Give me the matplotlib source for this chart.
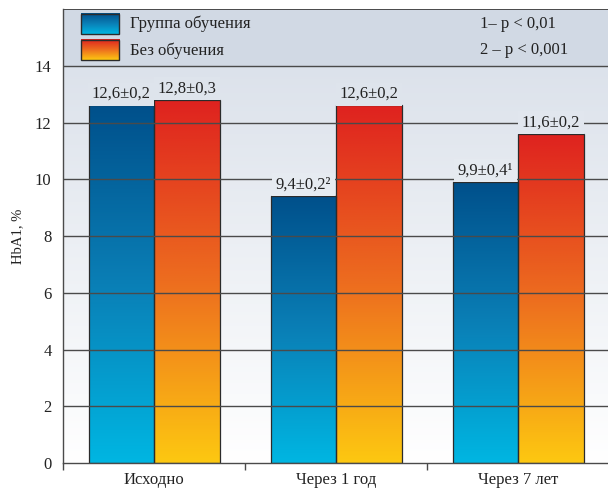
import numpy as np
import matplotlib
matplotlib.use("Agg")
import matplotlib.pyplot as plt
from matplotlib.colors import LinearSegmentedColormap, to_rgb

plt.rcParams['font.family'] = ['Liberation Serif', 'DejaVu Serif']

# data: HbA1 (%) per period, two groups
periods = ["Исходно", "Через 1 год", "Через 7 лет"]
trained = [12.6, 9.4, 9.9]
untrained = [12.8, 12.6, 11.6]
trained_labels = ["12,6±0,2", "9,4±0,2²", "9,9±0,4¹"]
untrained_labels = ["12,8±0,3", "12,6±0,2", "11,6±0,2"]
legend_names = ["Группа обучения", "Без обучения"]
notes = ["1– p < 0,01", "2 – p < 0,001"]

blue_cm = LinearSegmentedColormap.from_list("b", ["#00b6e2", "#0a7fb6", "#00508b"])
red_cm = LinearSegmentedColormap.from_list("r", ["#fdc811", "#ed6d1f", "#df221f"])
bg_top = "#dce2eb"
band_color = "#d1d9e4"
grid_color = "#4a4a4a"

fig = plt.figure(figsize=(6.08, 4.9), dpi=100)
ax = fig.add_axes([0.1031, 0.0551, 0.8969, 0.9265])
x0, x1 = -0.503, 2.493
ymax = 16.0
ax.set_xlim(x0, x1)
ax.set_ylim(0, ymax)

# background: white at the bottom fading to grey-blue, flat band for the legend
grad = np.linspace(0, 1, 256).reshape(-1, 1)
bg_cm = LinearSegmentedColormap.from_list("bg", ["#ffffff", bg_top])
ax.imshow(grad, cmap=bg_cm, origin="lower", extent=[x0, x1, 0, 14],
          aspect="auto", zorder=0)
ax.axhspan(14, ymax, color=band_color, zorder=0)


def bg_at(y):
    a = np.array(to_rgb("#ffffff"))
    b = np.array(to_rgb(bg_top))
    t = min(max(y / 14.0, 0), 1)
    return tuple(a + (b - a) * t)


def grad_bar(xl, w, h, cmap):
    ax.imshow(grad, cmap=cmap, origin="lower", extent=[xl, xl + w, 0, h],
              aspect="auto", zorder=2)
    ax.bar(xl, h, width=w, align="edge", fill=False, edgecolor="#2b2b2b",
           linewidth=0.9, zorder=3)


w = 0.361
xs = np.arange(len(periods))
for i in xs:
    grad_bar(i - w, w, trained[i], blue_cm)
    grad_bar(i, w, untrained[i], red_cm)

# grid lines over the bars
for g in range(2, 15, 2):
    ax.axhline(g, color=grid_color, linewidth=1.0, zorder=4)
ax.axhline(ymax, color=grid_color, linewidth=1.4, zorder=4)

# value labels with a background box that hides the grid
for i in xs:
    for val, txt, xc in [(trained[i], trained_labels[i], i - w / 2),
                         (untrained[i], untrained_labels[i], i + w / 2)]:
        yl = val + 0.12
        ax.text(xc, yl, txt, ha="center", va="bottom", fontsize=12,
                color="#222222", zorder=5,
                bbox=dict(facecolor=bg_at(yl + 0.3), edgecolor="none", pad=2.5))

# legend inside the top band
sw_x = (-0.403, -0.194)
for (ylo, yhi), cm, name, note in [((15.13, 15.84), blue_cm, legend_names[0], notes[0]),
                                   ((14.19, 14.9), red_cm, legend_names[1], notes[1])]:
    ax.imshow(grad, cmap=cm, origin="lower", extent=[sw_x[0], sw_x[1], ylo, yhi],
              aspect="auto", zorder=3)
    ax.add_patch(plt.Rectangle((sw_x[0], ylo), sw_x[1] - sw_x[0], yhi - ylo,
                               fill=False, edgecolor="#2b2b2b", linewidth=1.0, zorder=4))
    ym = (ylo + yhi) / 2
    ax.text(-0.134, ym, name, ha="left", va="center", fontsize=12, color="#222222")
    ax.text(1.79, ym, note, ha="left", va="center", fontsize=12, color="#222222")

# axes styling
for s in ["top", "right"]:
    ax.spines[s].set_visible(False)
for s in ["left", "bottom"]:
    ax.spines[s].set_color(grid_color)
    ax.spines[s].set_linewidth(1.0)
    ax.spines[s].set_zorder(6)

ax.set_yticks(range(0, 15, 2))
ax.tick_params(axis="y", length=0, pad=8, labelsize=12, labelcolor="#222222")
ax.set_xticks(xs)
ax.set_xticklabels(periods)
ax.tick_params(axis="x", length=0, pad=6.5, labelsize=12, labelcolor="#222222")
ax.set_xticks([-0.5, 0.5, 1.5], minor=True)
ax.tick_params(axis="x", which="minor", length=5, width=1.0, color=grid_color)
ax.set_ylabel("HbA1, %", fontsize=10.5, color="#222222", labelpad=8)

fig.savefig("out.png", dpi=100)
